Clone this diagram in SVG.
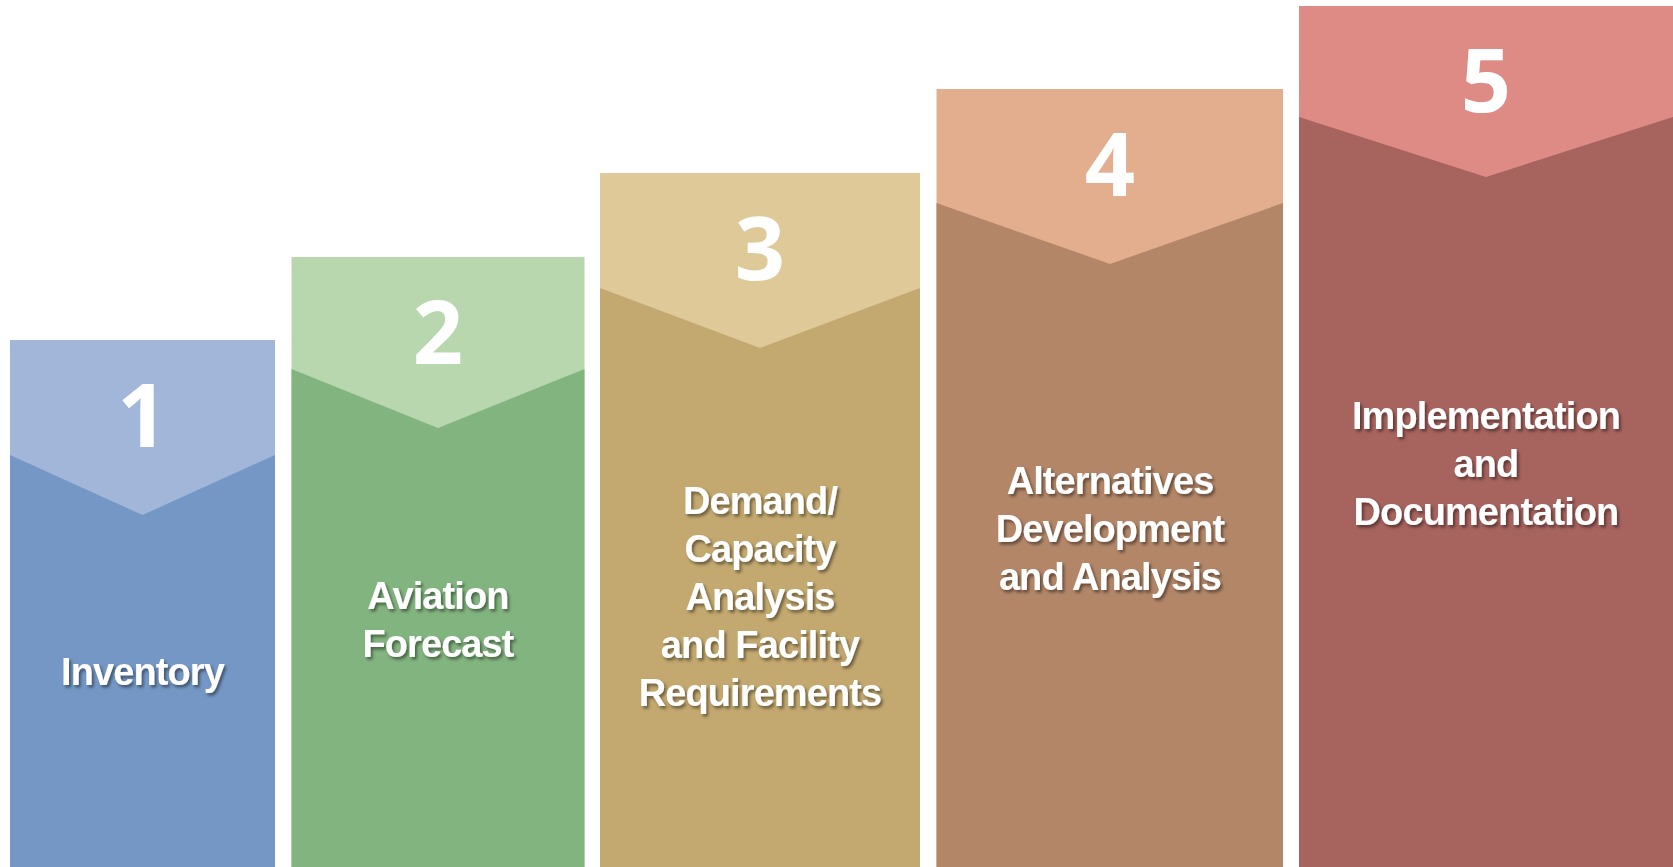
<svg xmlns="http://www.w3.org/2000/svg" width="1673" height="867" viewBox="0 0 1673 867">
<defs>
<filter id="sh" x="-20%" y="-20%" width="140%" height="160%">
<feDropShadow dx="2" dy="2.5" stdDeviation="1.6" flood-color="#000" flood-opacity="0.45"/>
</filter>
<style>
.num{font-family:"Open Sans","DejaVu Sans",sans-serif;font-weight:700;font-size:88px;fill:#fff;text-anchor:middle}
.lbl{font-family:"Liberation Sans",Arial,sans-serif;font-weight:700;font-size:38px;letter-spacing:-0.9px;fill:#fff;text-anchor:middle;filter:url(#sh)}
</style>
</defs>
<rect width="1673" height="867" fill="#fff"/>
<g id="step1">
<rect x="10" y="340" width="265" height="527" fill="#A2B6D9"/>
<polygon points="10,455 142.5,515 275,455 275,867 10,867" fill="#7497C5"/>
<text class="num" x="142.5" y="447">1</text>
<text class="lbl" x="142.5" y="685">Inventory</text>
</g>
<g id="step2">
<rect x="291.5" y="257" width="293" height="610" fill="#B8D7AE"/>
<polygon points="291.5,369 438,428 584.5,369 584.5,867 291.5,867" fill="#82B47F"/>
<text class="num" x="438" y="364">2</text>
<text class="lbl" x="438" y="609">Aviation</text>
<text class="lbl" x="438" y="657">Forecast</text>
</g>
<g id="step3">
<rect x="600" y="173" width="320" height="694" fill="#E0C999"/>
<polygon points="600,288 760,348 920,288 920,867 600,867" fill="#C3A86F"/>
<text class="num" x="760" y="280">3</text>
<text class="lbl" x="760" y="514">Demand/</text>
<text class="lbl" x="760" y="562">Capacity</text>
<text class="lbl" x="760" y="610">Analysis</text>
<text class="lbl" x="760" y="658">and Facility</text>
<text class="lbl" x="760" y="706">Requirements</text>
</g>
<g id="step4">
<rect x="936.5" y="89" width="346.5" height="778" fill="#E2AE8D"/>
<polygon points="936.5,203 1110,264 1283,203 1283,867 936.5,867" fill="#B38668"/>
<text class="num" x="1110" y="196">4</text>
<text class="lbl" x="1110" y="494">Alternatives</text>
<text class="lbl" x="1110" y="542">Development</text>
<text class="lbl" x="1110" y="590">and Analysis</text>
</g>
<g id="step5">
<rect x="1299" y="6" width="374" height="861" fill="#DE8A85"/>
<polygon points="1299,117 1486,177 1673,117 1673,867 1299,867" fill="#A7635E"/>
<text class="num" x="1486" y="112">5</text>
<text class="lbl" x="1486" y="429">Implementation</text>
<text class="lbl" x="1486" y="477">and</text>
<text class="lbl" x="1486" y="525">Documentation</text>
</g>
<g id="connectors"/>
</svg>
